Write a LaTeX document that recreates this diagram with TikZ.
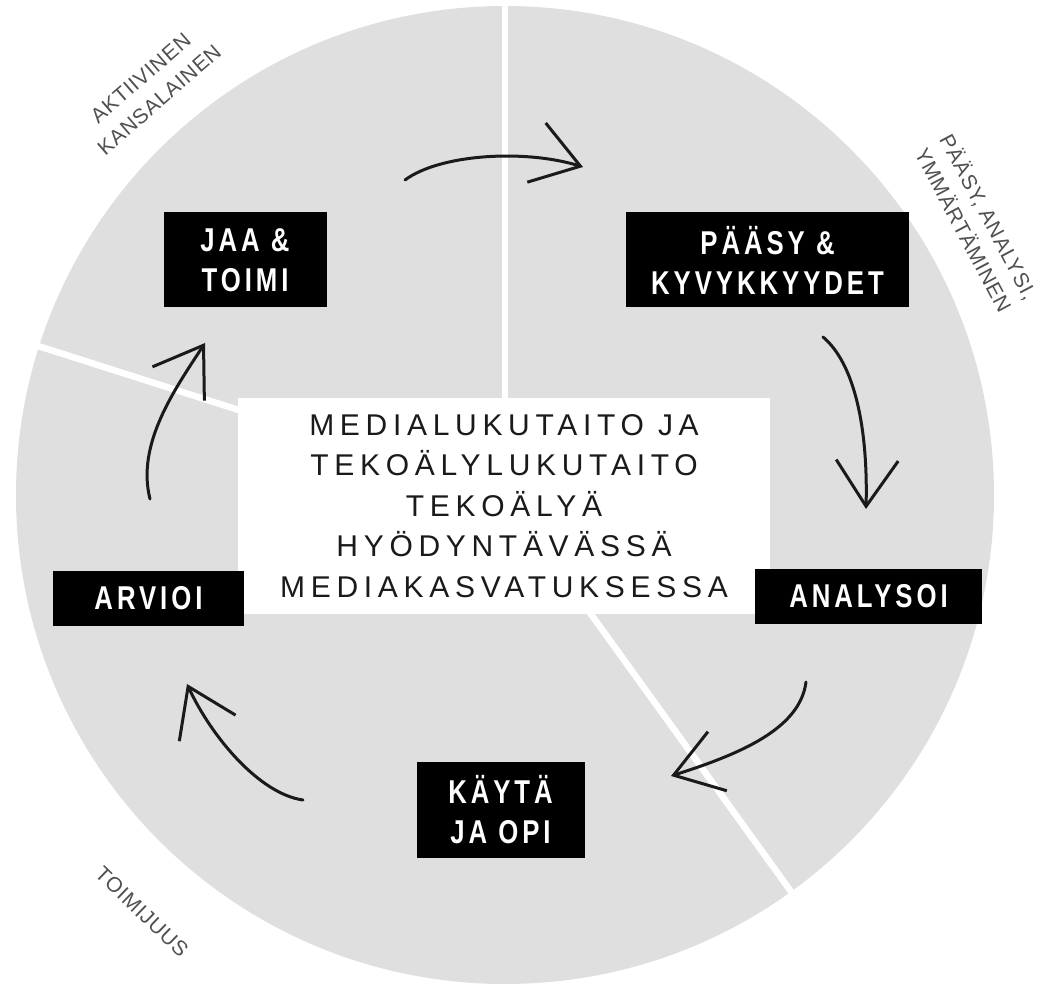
\documentclass[tikz,border=0pt]{standalone}
\usepackage{fontspec}
\setmainfont{Liberation Sans}
\newfontfamily\corefont[LetterSpace=19]{Liberation Sans}
\newfontfamily\boxfont[FakeStretch=0.78,LetterSpace=12]{Liberation Sans}
\newfontfamily\rimfont[LetterSpace=4]{Liberation Sans}
\usetikzlibrary{arrows.meta}
\definecolor{discgray}{HTML}{DFDFDF}
\definecolor{inkblack}{HTML}{1A1A1A}
\definecolor{rimgray}{HTML}{505050}

\tikzset{
  stepbox/.style={fill=black, text=white, inner sep=0pt, align=center,
    font=\boxfont\bfseries\fontsize{33}{40}\selectfont},
  twoline/.style={minimum height=95pt},
  oneline/.style={minimum height=55pt},
  rimlabel/.style={text=rimgray, align=center, font=\rimfont\fontsize{21}{28.5}\selectfont},
  cyclearrow/.style={inkblack, line width=3pt, line cap=round,
    -{Straight Barb[length=46pt,width=62pt]}},
}

\begin{document}
\begin{tikzpicture}[x=1pt,y=1pt]
  \useasboundingbox (0,0) rectangle (1050,989);

  \fill[discgray] (505,494) circle (489);
  \foreach \a in {90,162.3,-54.2}
    \draw[white, line width=6.5pt] (505,494) -- ++(\a:520);

  \node[fill=white, minimum width=532pt, minimum height=216pt, inner sep=0pt,
    align=center, text=inkblack, font=\corefont\fontsize{30}{40.5}\selectfont]
    (keskus) at (504,483)
    {MEDIALUKUTAITO JA\\TEKOÄLYLUKUTAITO\\TEKOÄLYÄ\\HYÖDYNTÄVÄSSÄ\\MEDIAKASVATUKSESSA};

  \node[stepbox, twoline, minimum width=163pt] (jaa) at (245,729) {JAA \&\\TOIMI};
  \node[stepbox, twoline, minimum width=283pt] (paasy) at (767.5,729) {PÄÄSY \&\\KYVYKKYYDET};
  \node[stepbox, oneline, minimum width=227pt] (analysoi) at (868.5,392.5) {ANALYSOI};
  \node[stepbox, twoline, minimum width=168pt] (kayta) at (500.5,179) {KÄYTÄ\\JA OPI};
  \node[stepbox, oneline, minimum width=191pt] (arvioi) at (148.5,390.5) {ARVIOI};

  \node[rimlabel, rotate=41] (kansalainen) at (150,900) {AKTIIVINEN\\KANSALAINEN};
  \node[rimlabel, rotate=-62] (ymmartaminen) at (977,766) {PÄÄSY, ANALYSI,\\YMMÄRTÄMINEN};
  \node[rimlabel, rotate=-44] (toimijuus) at (142,77) {TOIMIJUUS};

  \coordinate (jaa-out) at (405,809);
  \coordinate (paasy-in) at (583,822);
  \coordinate (paasy-out) at (823,652);
  \coordinate (analysoi-in) at (866,480);
  \coordinate (analysoi-out) at (806,307);
  \coordinate (kayta-in) at (671,213);
  \coordinate (kayta-out) at (303,189);
  \coordinate (arvioi-in) at (187,305);
  \coordinate (arvioi-out) at (150,490);
  \coordinate (jaa-in) at (205,646);

  \draw[cyclearrow] (jaa-out) .. controls +(35,26) and +(-58,18) .. (paasy-in);
  \draw[cyclearrow] (paasy-out) .. controls +(32,-27) and +(2,80) .. (analysoi-in);
  \draw[cyclearrow] (analysoi-out) .. controls +(-6,-47) and +(69,22) .. (kayta-in);
  \draw[cyclearrow] (kayta-out) .. controls +(-43,6) and +(25,-54) .. (arvioi-in);
  \draw[cyclearrow] (arvioi-out) .. controls +(-14,55) and +(-30,-46) .. (jaa-in);
\end{tikzpicture}
\end{document}
